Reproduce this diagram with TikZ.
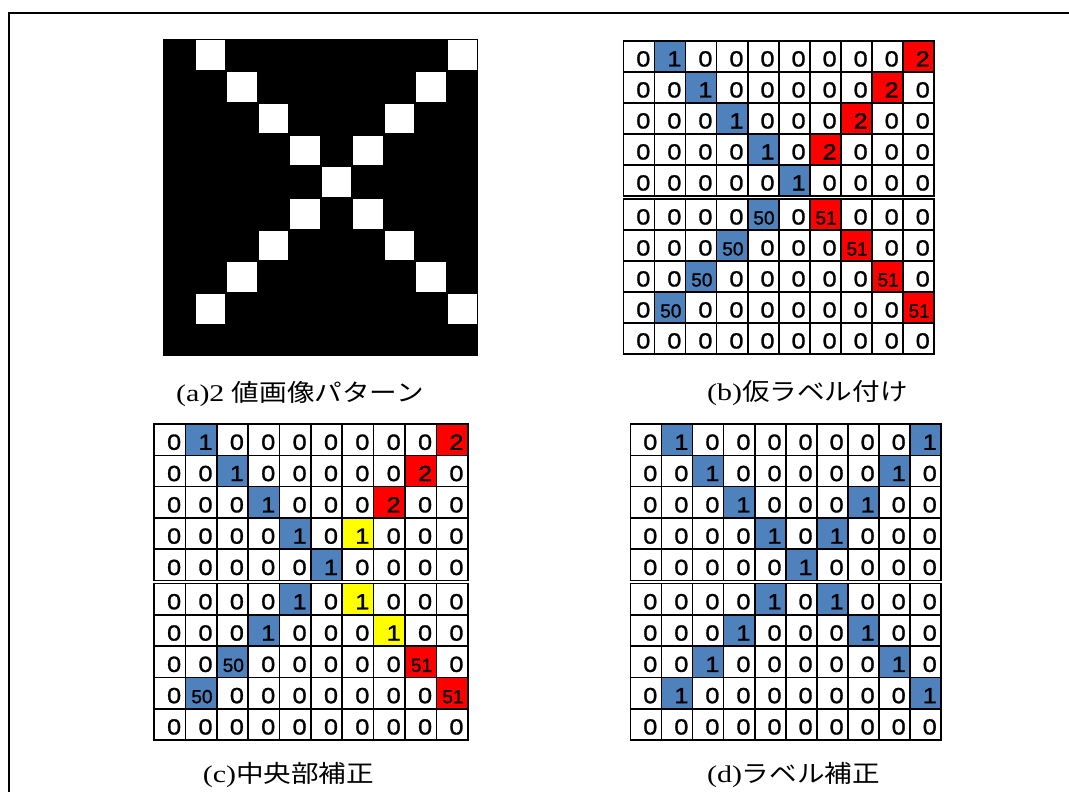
\documentclass[tikz,border=0pt]{standalone}
\usepackage{fontspec}
\usepackage{tikz}

\newfontfamily\numfont[FakeStretch=1.15,FakeBold=1.2]{Liberation Sans}
\newfontfamily\smallnumfont[FakeBold=1.2]{Liberation Sans}
\newfontfamily\latinfont[FakeStretch=1.25]{Liberation Serif}
\newfontfamily\cjk[FakeStretch=1.15]{Noto Sans CJK JP}

\definecolor{cw}{HTML}{FFFFFF}
\definecolor{cb}{HTML}{4F81BD}
\definecolor{cr}{HTML}{FF0000}
\definecolor{cy}{HTML}{FFFF00}

\tikzset{
  cellbox/.style={rectangle, draw=black, line width=1.6pt, inner sep=0pt, outer sep=0pt},
  numtext/.style={inner sep=0pt, font=\numfont\fontsize{22}{24}\selectfont},
  caption/.style={inner sep=0pt, anchor=base, font=\fontsize{24}{26}\selectfont},
}

% label table: name, left, top, cell width, cell height, rows
\newcommand{\labelgrid}[6]{%
  \foreach \row [count=\i from 0] in {#6} {
    \foreach \val/\col [count=\j from 0] in \row {
      \pgfmathsetmacro{\xl}{#2+\j*#4}
      \pgfmathsetmacro{\yt}{#3+\i*#5+(\i>4)*3}
      \node[cellbox, fill=c\col, minimum width=#4pt, minimum height=#5pt, anchor=north west] (#1-\i-\j) at (\xl,\yt) {};
      \node[numtext, anchor=base east] (#1-t-\i-\j) at (\xl+#4-4,\yt+#5-5.5) {\ifnum\val>9 \smallnumfont\fontsize{19}{20}\selectfont\fi\val};
    }
  }%
}

\begin{document}
\begin{tikzpicture}[x=1pt, y=-1pt]
  \useasboundingbox (0,0) rectangle (1069,792);

  % outer frame
  \draw[line width=1.6pt] (9,792) -- (9,13) -- (1069,13);

  % (a) binary pattern
  \fill[black] (163,39) rectangle (478,356);
  \foreach \r/\c in {0/1,0/9,1/2,1/8,2/3,2/7,3/4,3/6,4/5,5/4,5/6,6/3,6/7,7/2,7/8,8/1,8/9} {
    \fill[white] (164+\c*31.5,40.5+\r*31.7) rectangle ++(29.5,29.5);
  }
  \node[caption] (cap-a) at (300,401) {\latinfont (a)2 \cjk 値画像パターン};

  % (b) provisional labels
  \labelgrid{b}{623.5}{41}{31.05}{31}{%
    {0/w,1/b,0/w,0/w,0/w,0/w,0/w,0/w,0/w,2/r},
    {0/w,0/w,1/b,0/w,0/w,0/w,0/w,0/w,2/r,0/w},
    {0/w,0/w,0/w,1/b,0/w,0/w,0/w,2/r,0/w,0/w},
    {0/w,0/w,0/w,0/w,1/b,0/w,2/r,0/w,0/w,0/w},
    {0/w,0/w,0/w,0/w,0/w,1/b,0/w,0/w,0/w,0/w},
    {0/w,0/w,0/w,0/w,50/b,0/w,51/r,0/w,0/w,0/w},
    {0/w,0/w,0/w,50/b,0/w,0/w,0/w,51/r,0/w,0/w},
    {0/w,0/w,50/b,0/w,0/w,0/w,0/w,0/w,51/r,0/w},
    {0/w,50/b,0/w,0/w,0/w,0/w,0/w,0/w,0/w,51/r},
    {0/w,0/w,0/w,0/w,0/w,0/w,0/w,0/w,0/w,0/w}}
  \node[caption] (cap-b) at (807.5,400) {\latinfont (b)\cjk 仮ラベル付け};

  % (c) centre correction
  \labelgrid{c}{154}{424}{31.37}{31.3}{%
    {0/w,1/b,0/w,0/w,0/w,0/w,0/w,0/w,0/w,2/r},
    {0/w,0/w,1/b,0/w,0/w,0/w,0/w,0/w,2/r,0/w},
    {0/w,0/w,0/w,1/b,0/w,0/w,0/w,2/r,0/w,0/w},
    {0/w,0/w,0/w,0/w,1/b,0/w,1/y,0/w,0/w,0/w},
    {0/w,0/w,0/w,0/w,0/w,1/b,0/w,0/w,0/w,0/w},
    {0/w,0/w,0/w,0/w,1/b,0/w,1/y,0/w,0/w,0/w},
    {0/w,0/w,0/w,1/b,0/w,0/w,0/w,1/y,0/w,0/w},
    {0/w,0/w,50/b,0/w,0/w,0/w,0/w,0/w,51/r,0/w},
    {0/w,50/b,0/w,0/w,0/w,0/w,0/w,0/w,0/w,51/r},
    {0/w,0/w,0/w,0/w,0/w,0/w,0/w,0/w,0/w,0/w}}
  \node[caption] (cap-c) at (288.5,782) {\latinfont (c)\cjk 中央部補正};

  % (d) label correction
  \labelgrid{d}{630.5}{424}{31.05}{31.3}{%
    {0/w,1/b,0/w,0/w,0/w,0/w,0/w,0/w,0/w,1/b},
    {0/w,0/w,1/b,0/w,0/w,0/w,0/w,0/w,1/b,0/w},
    {0/w,0/w,0/w,1/b,0/w,0/w,0/w,1/b,0/w,0/w},
    {0/w,0/w,0/w,0/w,1/b,0/w,1/b,0/w,0/w,0/w},
    {0/w,0/w,0/w,0/w,0/w,1/b,0/w,0/w,0/w,0/w},
    {0/w,0/w,0/w,0/w,1/b,0/w,1/b,0/w,0/w,0/w},
    {0/w,0/w,0/w,1/b,0/w,0/w,0/w,1/b,0/w,0/w},
    {0/w,0/w,1/b,0/w,0/w,0/w,0/w,0/w,1/b,0/w},
    {0/w,1/b,0/w,0/w,0/w,0/w,0/w,0/w,0/w,1/b},
    {0/w,0/w,0/w,0/w,0/w,0/w,0/w,0/w,0/w,0/w}}
  \node[caption] (cap-d) at (793.5,782) {\latinfont (d)\cjk ラベル補正};
\end{tikzpicture}
\end{document}
